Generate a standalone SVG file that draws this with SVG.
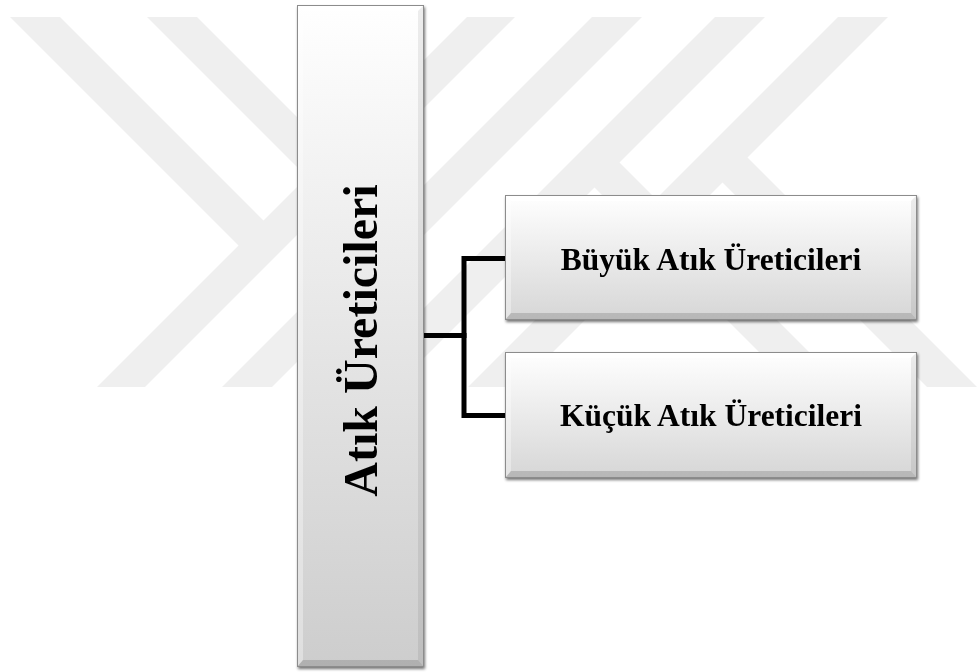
<svg xmlns="http://www.w3.org/2000/svg" width="980" height="672" viewBox="0 0 980 672">
  <defs>
    <style>
      .mark { fill: #efefef; }
      .conn { fill: none; stroke: #000; stroke-width: 5; stroke-linecap: square; stroke-linejoin: miter; }
      .label { font-family: "Liberation Serif", "Times New Roman", serif; font-weight: bold; fill: #000; }
      .bevel-top { fill: #ffffff; opacity: 0.7; }
      .bevel-left { fill: #ffffff; opacity: 0.35; }
      .bevel-right { fill: #000000; opacity: 0.07; }
      .bevel-bottom { fill: #000000; opacity: 0.14; }
      .edge { fill: none; stroke: #8c8c8c; stroke-width: 1; }
    </style>
    <linearGradient id="gradTall" x1="0" y1="0" x2="0" y2="1">
      <stop offset="0" stop-color="#ffffff"/>
      <stop offset="1" stop-color="#cdcdcd"/>
    </linearGradient>
    <linearGradient id="gradBox" x1="0" y1="0" x2="0" y2="1">
      <stop offset="0" stop-color="#ffffff"/>
      <stop offset="1" stop-color="#d6d6d6"/>
    </linearGradient>
    <filter id="shadow" x="-10%" y="-10%" width="120%" height="120%">
      <feGaussianBlur in="SourceAlpha" stdDeviation="1.5"/>
      <feOffset dx="1" dy="2" result="blur"/>
      <feComponentTransfer><feFuncA type="linear" slope="0.55"/></feComponentTransfer>
      <feMerge><feMergeNode/><feMergeNode in="SourceGraphic"/></feMerge>
    </filter>
  </defs>

  <rect width="980" height="672" fill="#ffffff"/>

  <!-- faint background emblem: four slanted bands, each with a branching arm -->
  <g id="emblem">
    <polygon class="mark" points="10,17 60,17 263.5,220.5 467,17 515,17 145,387 97,387 238.5,245.5"/>
    <polygon class="mark" points="147,17 197,17 394.5,214.5 592,17 642,17 272,387 222,387 369.5,239.5"/>
    <polygon class="mark" points="715,17 765,17 619.5,162.5 844,387 794,387 594.5,187.5 395,387 345,387"/>
    <polygon class="mark" points="838,17 888,17 747.5,157.5 977,387 927,387 722.5,182.5 518,387 468,387"/>
  </g>

  <!-- connectors -->
  <g id="connectors">
    <polyline class="conn" points="425,335.5 464,335.5"/>
    <polyline class="conn" points="505,258.5 464,258.5 464,415.5 505,415.5"/>
  </g>

  <!-- root node -->
  <g id="node-root" filter="url(#shadow)">
    <rect x="297" y="5" width="127" height="662" fill="url(#gradTall)"/>
    <polygon class="bevel-top" points="297,5 424,5 418,11 303,11"/>
    <polygon class="bevel-left" points="297,5 303,11 303,660 297,667"/>
    <polygon class="bevel-right" points="424,5 424,667 418,660 418,11"/>
    <polygon class="bevel-bottom" points="297,667 424,667 418,660 303,660"/>
    <rect class="edge" x="297.5" y="5.5" width="126" height="661"/>
    <text class="label" font-size="48" text-anchor="middle" transform="translate(377,340.5) rotate(-90)">Atık Üreticileri</text>
  </g>

  <!-- child node: large producers -->
  <g id="node-large" filter="url(#shadow)">
    <rect x="505" y="195" width="412" height="125" fill="url(#gradBox)"/>
    <polygon class="bevel-top" points="505,195 917,195 911,201 511,201"/>
    <polygon class="bevel-left" points="505,195 511,201 511,313 505,320"/>
    <polygon class="bevel-right" points="917,195 917,320 911,313 911,201"/>
    <polygon class="bevel-bottom" points="505,320 917,320 911,313 511,313"/>
    <rect class="edge" x="505.5" y="195.5" width="411" height="124"/>
    <text class="label" font-size="31.5" text-anchor="middle" x="711" y="270">Büyük Atık Üreticileri</text>
  </g>

  <!-- child node: small producers -->
  <g id="node-small" filter="url(#shadow)">
    <rect x="505" y="352" width="412" height="126" fill="url(#gradBox)"/>
    <polygon class="bevel-top" points="505,352 917,352 911,358 511,358"/>
    <polygon class="bevel-left" points="505,352 511,358 511,471 505,478"/>
    <polygon class="bevel-right" points="917,352 917,478 911,471 911,358"/>
    <polygon class="bevel-bottom" points="505,478 917,478 911,471 511,471"/>
    <rect class="edge" x="505.5" y="352.5" width="411" height="125"/>
    <text class="label" font-size="31.5" text-anchor="middle" x="711" y="426">Küçük Atık Üreticileri</text>
  </g>
</svg>
